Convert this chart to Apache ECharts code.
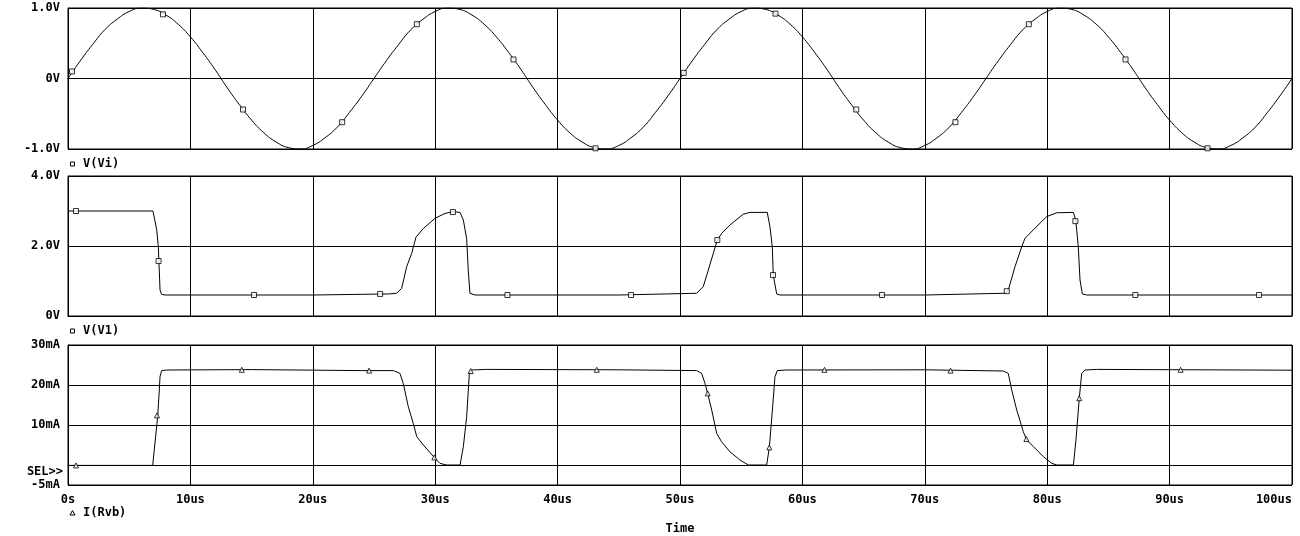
<!DOCTYPE html>
<html>
<head>
<meta charset="utf-8">
<title>V(Vi), V(V1), I(Rvb)</title>
<script src="https://cdn.jsdelivr.net/npm/echarts@6/dist/echarts.min.js"></script>
<style>
  html, body { margin: 0; padding: 0; background: #fff; }
  #chart { width: 1300px; height: 536px; }
</style>
</head>
<body>
<div id="chart"></div>
<script>
const TIME_LABELS = ["0s", "10us", "20us", "30us", "40us", "50us", "60us", "70us", "80us", "90us", "100us"];

const VI_STEP_US = 1;
const VI_PERIOD = [0, 0.25, 0.48, 0.69, 0.84, 0.95, 1.0, 0.98, 0.9, 0.77, 0.59, 0.37, 0.13,
  -0.13, -0.37, -0.59, -0.77, -0.9, -0.98, -1.0, -0.95, -0.84, -0.69, -0.48, -0.25];
const VI_VALUES = [
  ...VI_PERIOD, ...VI_PERIOD, ...VI_PERIOD, ...VI_PERIOD, 0,
];
const VI_MARKERS = [
  [0.33, 0.1], [7.76, 0.91], [14.3, -0.44], [22.4, -0.62], [28.5, 0.77], [36.4, 0.27], [43.1, -0.99],
  [50.3, 0.08], [57.8, 0.92], [64.4, -0.44], [72.5, -0.62], [78.5, 0.77], [86.4, 0.27], [93.1, -0.99],
];
const VI_TICK_LABELS = { "-1": "-1.0V", "0": "0V", "1": "1.0V" };

const V1_POINTS = [
  [0, 3.0], [6.94, 3.0], [7.25, 2.46], [7.38, 1.98], [7.52, 0.74], [7.65, 0.62], [7.92, 0.6],
  [20, 0.6], [26.2, 0.63], [26.85, 0.65], [27.26, 0.79], [27.67, 1.41], [28.08, 1.79], [28.43, 2.25],
  [29.03, 2.5], [29.98, 2.79], [30.8, 2.93], [31.47, 2.98], [32.03, 2.96], [32.3, 2.74], [32.57, 2.21],
  [32.7, 1.31], [32.84, 0.65], [33.25, 0.6], [45, 0.6], [51.36, 0.65], [51.9, 0.84], [52.31, 1.31],
  [52.72, 1.79], [53.05, 2.17], [53.4, 2.36], [54.08, 2.6], [55.17, 2.91], [55.72, 2.96], [57.13, 2.96],
  [57.35, 2.55], [57.54, 1.98], [57.62, 1.17], [57.9, 0.63], [58.17, 0.6], [70, 0.6], [76.55, 0.65],
  [76.82, 0.74], [77.37, 1.41], [77.92, 1.98], [78.19, 2.22], [78.86, 2.46], [79.96, 2.84], [80.78, 2.95],
  [82.14, 2.96], [82.33, 2.74], [82.54, 1.98], [82.68, 1.03], [82.87, 0.63], [83.23, 0.6], [100, 0.6],
];
const V1_MARKERS = [
  [0.65, 3.0], [7.4, 1.57], [15.2, 0.6], [25.5, 0.63], [31.45, 2.97], [35.9, 0.6], [46.0, 0.6],
  [53.05, 2.17], [57.6, 1.17], [66.5, 0.6], [76.7, 0.71], [82.3, 2.71], [87.2, 0.6], [97.3, 0.6],
];
const V1_TICK_LABELS = { "0": "0V", "2": "2.0V", "4": "4.0V" };

const IRVB_POINTS = [
  [0, -0.1], [6.92, -0.1], [7.33, 12.25], [7.46, 18.75], [7.52, 22.1], [7.65, 23.6], [8.06, 23.75],
  [15, 23.85], [24, 23.6], [26.58, 23.6], [27.12, 22.9], [27.39, 20.4], [27.8, 14.6], [28.21, 10.4],
  [28.49, 7.1], [29.03, 5.0], [29.98, 1.7], [30.39, 0.4], [30.94, 0], [32.03, 0], [32.3, 4.6],
  [32.57, 12.1], [32.79, 22.9], [32.98, 23.75], [34.2, 23.9], [45, 23.8], [51.36, 23.6], [51.77, 22.9],
  [52.04, 20.4], [52.26, 17.9], [52.59, 13.75], [53.0, 7.9], [53.4, 5.8], [54.08, 3.3], [54.9, 1.25],
  [55.58, 0], [57.08, 0], [57.3, 4.4], [57.57, 14.6], [57.76, 22.1], [57.95, 23.6], [58.72, 23.75],
  [70, 23.8], [76.41, 23.5], [76.82, 22.9], [77.1, 18.75], [77.51, 13.75], [78.05, 8.3], [78.32, 6.25],
  [78.87, 4.6], [79.69, 2.1], [80.38, 0.4], [80.79, 0], [82.14, 0], [82.35, 6.25], [82.62, 16.7],
  [82.82, 22.9], [83.09, 23.75], [84.04, 23.9], [100, 23.7],
];
const IRVB_MARKERS = [
  [0.65, -0.1], [7.27, 12.4], [14.2, 23.8], [24.6, 23.6], [29.93, 1.9], [32.9, 23.5], [43.2, 23.8],
  [52.26, 17.9], [57.3, 4.4], [61.8, 23.8], [72.1, 23.6], [78.3, 6.5], [82.62, 16.7], [90.9, 23.8],
];
const IRVB_GRID_VALUES = [-5, 0, 10, 20, 30];
const IRVB_LABEL_VALUES = [-5, 10, 20, 30];

const FONT = "'DejaVu Sans Mono', 'Liberation Mono', monospace";
const INK = "#000";

const textStyle = { fontFamily: FONT, fontWeight: "bold", fontSize: 12, color: INK };

function xAxisFor(gridIndex, showLabels) {
  return {
    type: "value",
    gridIndex,
    min: 0,
    max: 100,
    interval: 10,
    axisLine: { show: true, lineStyle: { color: INK, width: 1 } },
    axisTick: { show: false },
    splitLine: { show: true, lineStyle: { color: INK, width: 1 } },
    axisLabel: showLabels
      ? { ...textStyle, margin: 9, alignMaxLabel: "right", formatter: (v) => TIME_LABELS[Math.round(v / 10)] }
      : { show: false },
    name: showLabels ? "Time" : "",
    nameLocation: "middle",
    nameGap: 38,
    nameTextStyle: textStyle,
  };
}

function yAxisFor(gridIndex, min, max, interval, labels) {
  return {
    type: "value",
    gridIndex,
    min,
    max,
    interval,
    axisLine: { show: true, lineStyle: { color: INK, width: 1 } },
    axisTick: { show: false },
    splitLine: { show: true, lineStyle: { color: INK, width: 1 } },
    axisLabel: { ...textStyle, margin: 8, formatter: (v) => labels[String(v)] || "" },
  };
}

function traceSeries(index, points, smooth) {
  return {
    type: "line",
    xAxisIndex: index,
    yAxisIndex: index,
    data: points,
    smooth,
    showSymbol: false,
    silent: true,
    lineStyle: { color: INK, width: 1 },
  };
}

function markerSeries(index, points, symbol) {
  return {
    type: "scatter",
    xAxisIndex: index,
    yAxisIndex: index,
    data: points,
    symbol,
    symbolSize: 5,
    silent: true,
    z: 3,
    itemStyle: { color: "#fff", borderColor: INK, borderWidth: 1 },
  };
}

function legendItem(y, symbol, label) {
  const mark = symbol === "rect"
    ? { type: "rect", shape: { x: 70.5, y: y - 2, width: 4, height: 4 }, style: { fill: "#fff", stroke: INK, lineWidth: 1 } }
    : { type: "polygon", shape: { points: [[72.5, y - 2.5], [70, y + 2], [75, y + 2]] }, style: { fill: "#fff", stroke: INK, lineWidth: 1 } };
  return [
    mark,
    { type: "text", x: 83, y, style: { text: label, font: `bold 12px ${FONT}`, fill: INK, verticalAlign: "middle" } },
  ];
}

const viPoints = VI_VALUES.map((v, i) => [i * VI_STEP_US, v]);

const irvbY = yAxisFor(2, -5, 30, 5, {});
irvbY.axisTick = { show: false, customValues: IRVB_GRID_VALUES };
irvbY.axisLabel = {
  ...textStyle,
  margin: 8,
  customValues: IRVB_LABEL_VALUES,
  formatter: (v) => v + "mA",
};

const chart = echarts.init(document.getElementById("chart"), null, { renderer: "canvas" });
chart.setOption({
  animation: false,
  backgroundColor: "#fff",
  grid: [
    { left: 68, right: 8, top: 8, height: 141, show: true, borderColor: INK, borderWidth: 1 },
    { left: 68, right: 8, top: 176, height: 140, show: true, borderColor: INK, borderWidth: 1 },
    { left: 68, right: 8, top: 345, height: 140, show: true, borderColor: INK, borderWidth: 1 },
  ],
  xAxis: [xAxisFor(0, false), xAxisFor(1, false), xAxisFor(2, true)],
  yAxis: [
    yAxisFor(0, -1, 1, 1, VI_TICK_LABELS),
    yAxisFor(1, 0, 4, 2, V1_TICK_LABELS),
    irvbY,
  ],
  series: [
    traceSeries(0, viPoints, true),
    markerSeries(0, VI_MARKERS, "rect"),
    traceSeries(1, V1_POINTS, false),
    markerSeries(1, V1_MARKERS, "rect"),
    traceSeries(2, IRVB_POINTS, false),
    markerSeries(2, IRVB_MARKERS, "triangle"),
  ],
  graphic: [
    ...legendItem(164, "rect", "V(Vi)"),
    ...legendItem(331, "rect", "V(V1)"),
    ...legendItem(513, "triangle", "I(Rvb)"),
    {
      type: "text",
      x: 63,
      y: 472,
      style: { text: "SEL>>", font: `bold 12px ${FONT}`, fill: INK, align: "right", verticalAlign: "middle" },
    },
  ],
});
</script>
</body>
</html>
